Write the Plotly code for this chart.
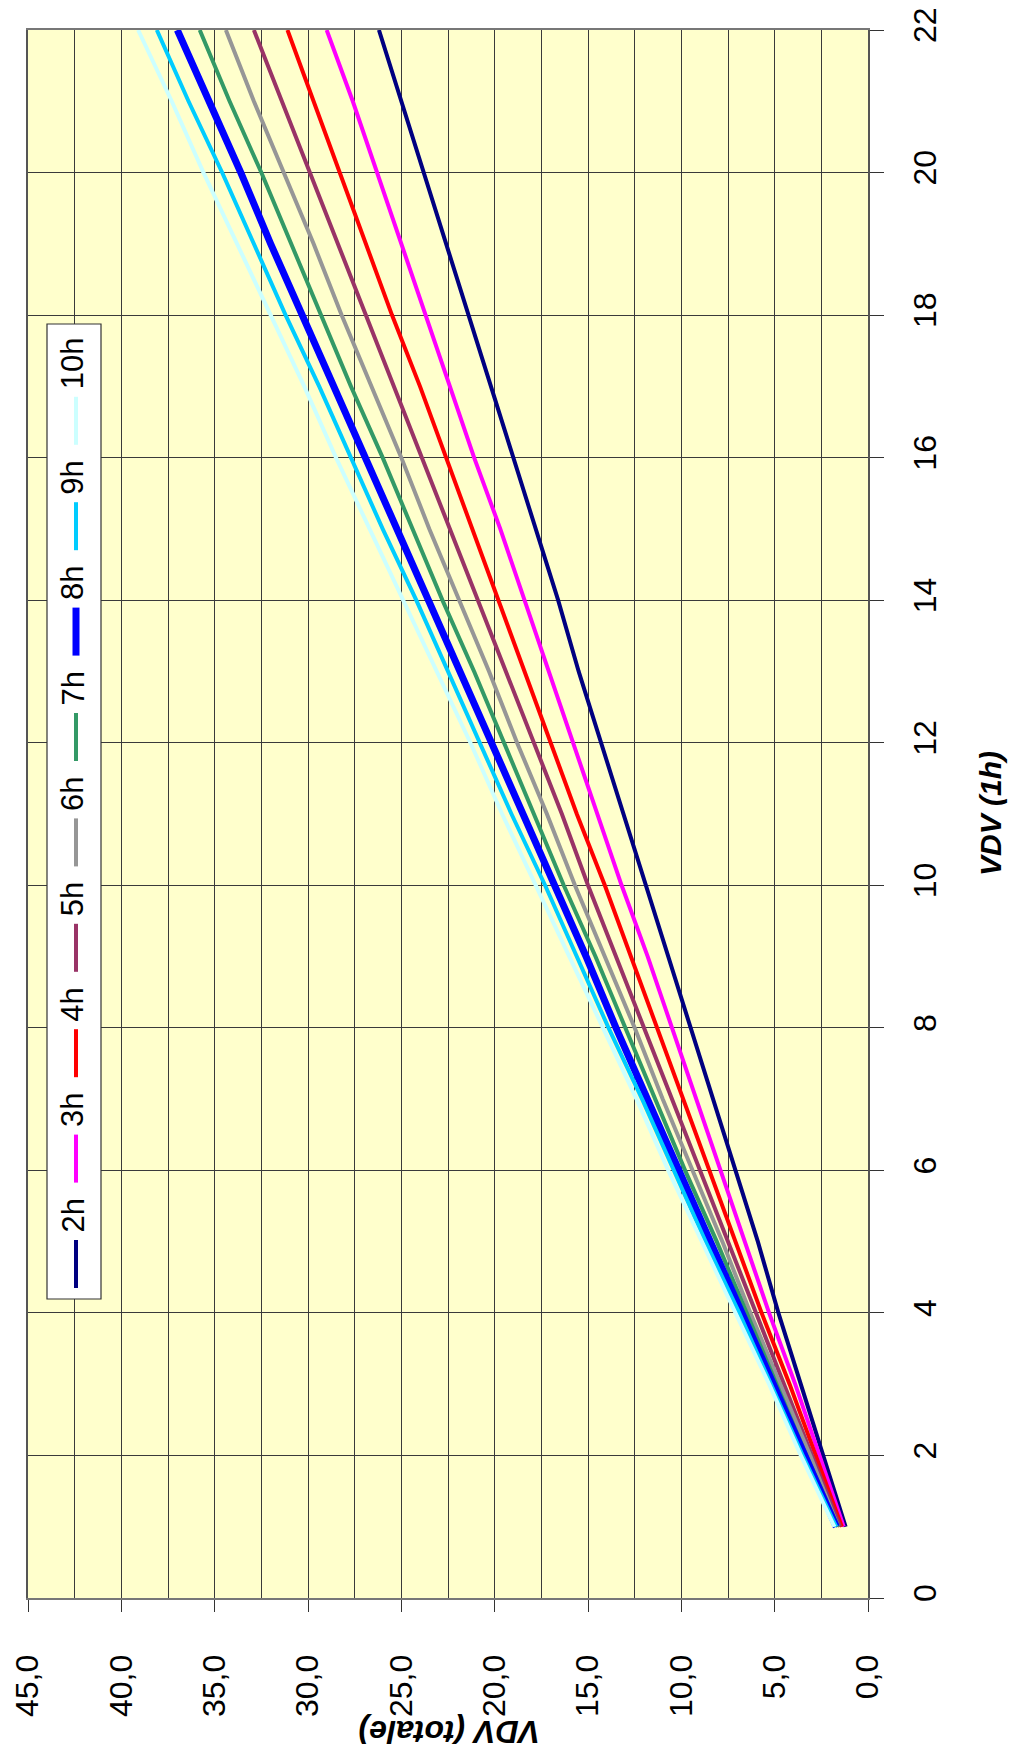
import plotly.graph_objects as go

# VDV (1h) values (vertical axis in the rotated chart)
vdv_1h = [1, 2, 3, 4, 5, 6, 7, 8, 9, 10, 11, 12, 13, 14, 15, 16, 17, 18, 19, 20, 21, 22]

# VDV (totale) per exposure duration
vdv_2h = [1.2, 2.4, 3.6, 4.8, 5.9, 7.1, 8.3, 9.5, 10.7, 11.9, 13.1, 14.3, 15.5, 16.6, 17.8, 19.0, 20.2, 21.4, 22.6, 23.8, 25.0, 26.2]
vdv_3h = [1.3, 2.6, 3.9, 5.3, 6.6, 7.9, 9.2, 10.5, 11.8, 13.2, 14.5, 15.8, 17.1, 18.4, 19.7, 21.1, 22.4, 23.7, 25.0, 26.3, 27.6, 29.0]
vdv_4h = [1.4, 2.8, 4.2, 5.7, 7.1, 8.5, 9.9, 11.3, 12.7, 14.1, 15.6, 17.0, 18.4, 19.8, 21.2, 22.6, 24.0, 25.5, 26.9, 28.3, 29.7, 31.1]
vdv_5h = [1.5, 3.0, 4.5, 6.0, 7.5, 9.0, 10.5, 12.0, 13.5, 15.0, 16.4, 17.9, 19.4, 20.9, 22.4, 23.9, 25.4, 26.9, 28.4, 29.9, 31.4, 32.9]
vdv_6h = [1.6, 3.1, 4.7, 6.3, 7.8, 9.4, 11.0, 12.5, 14.1, 15.7, 17.2, 18.8, 20.3, 21.9, 23.5, 25.0, 26.6, 28.2, 29.7, 31.3, 32.9, 34.4]
vdv_7h = [1.6, 3.3, 4.9, 6.5, 8.1, 9.8, 11.4, 13.0, 14.6, 16.3, 17.9, 19.5, 21.1, 22.8, 24.4, 26.0, 27.7, 29.3, 30.9, 32.5, 34.2, 35.8]
vdv_8h = [1.7, 3.4, 5.0, 6.7, 8.4, 10.1, 11.8, 13.5, 15.1, 16.8, 18.5, 20.2, 21.9, 23.5, 25.2, 26.9, 28.6, 30.3, 32.0, 33.6, 35.3, 37.0]
vdv_9h = [1.7, 3.5, 5.2, 6.9, 8.7, 10.4, 12.1, 13.9, 15.6, 17.3, 19.1, 20.8, 22.5, 24.2, 26.0, 27.7, 29.4, 31.2, 32.9, 34.6, 36.4, 38.1]
vdv_10h = [1.8, 3.6, 5.3, 7.1, 8.9, 10.7, 12.4, 14.2, 16.0, 17.8, 19.6, 21.3, 23.1, 24.9, 26.7, 28.5, 30.2, 32.0, 33.8, 35.6, 37.3, 39.1]

series_names = ["2h", "3h", "4h", "5h", "6h", "7h", "8h", "9h", "10h"]
series_values = [vdv_2h, vdv_3h, vdv_4h, vdv_5h, vdv_6h, vdv_7h, vdv_8h, vdv_9h, vdv_10h]
series_colors = ["#000080", "#FF00FF", "#FF0000", "#993366", "#969696",
                 "#339966", "#0000FF", "#00CCFF", "#CCFFFF"]
series_widths = [4, 4, 4, 4, 4, 4, 7, 4, 4]

x_title = "VDV (totale)"
y_title = "VDV (1h)"

W, H = 1017, 1757
L, R, T, B = 28, 868, 30, 1598  # plot area pixel bounds
PW, PH = R - L, B - T

def px(xp):
    return (xp - L) / PW

def py(yp):
    return (B - yp) / PH

FONT = "Liberation Sans, Arial, sans-serif"

fig = go.Figure()
for name, vals, col, w in zip(series_names, series_values, series_colors, series_widths):
    fig.add_trace(go.Scatter(x=vals, y=vdv_1h, mode="lines", name=name,
                             line=dict(color=col, width=w), showlegend=False))

grid_col = "#3a3a3a"
fig.update_layout(
    width=W, height=H,
    margin=dict(l=L, r=W - R, t=T, b=H - B, autoexpand=False),
    paper_bgcolor="white", plot_bgcolor="#FFFFCC",
    separators=", ",
    font=dict(family=FONT, color="black"),
    xaxis=dict(range=[45, 0], dtick=5, tick0=0, tickformat=".1f", tickangle=-90,
               showgrid=True, gridcolor=grid_col, gridwidth=1,
               minor=dict(dtick=2.5, showgrid=True, gridcolor=grid_col, gridwidth=1),
               ticks="outside", ticklen=12, tickcolor="#333", tickwidth=1,
               showline=True, linecolor="#777", linewidth=2, mirror=True,
               tickfont=dict(size=32, family=FONT), ticklabelstandoff=30,
               zeroline=False, automargin=False),
    yaxis=dict(range=[0, 22], dtick=2, tick0=0, side="right", tickangle=-90,
               showgrid=True, gridcolor=grid_col, gridwidth=1,
               ticks="outside", ticklen=14, tickcolor="#333", tickwidth=1,
               showline=True, linecolor="#555", linewidth=2, mirror=True,
               tickfont=dict(size=32, family=FONT), ticklabelstandoff=14,
               zeroline=False, automargin=False),
)

annotations = [
    dict(text="<b><i>" + y_title + "</i></b>", x=px(990), y=py(813), xref="paper", yref="paper",
         showarrow=False, textangle=-90, font=dict(size=30, family=FONT),
         xanchor="center", yanchor="middle"),
    dict(text="<b><i>" + x_title + "</i></b>", x=px(450), y=py(1732), xref="paper", yref="paper",
         showarrow=False, textangle=180, font=dict(size=32, family=FONT),
         xanchor="center", yanchor="middle"),
]

shapes = [dict(type="rect", xref="paper", yref="paper",
               x0=px(47), x1=px(101), y0=py(1299), y1=py(324),
               fillcolor="white", line=dict(color="#333", width=1.2), layer="above")]

for i, (name, col, w) in enumerate(zip(series_names, series_colors, series_widths)):
    cy = 1264 - i * 105.4
    y_top = cy - 24
    y_bot = cy + 24
    shapes.append(dict(type="line", xref="paper", yref="paper",
                       x0=px(76), x1=px(76), y0=py(y_bot), y1=py(y_top),
                       line=dict(color=col, width=w), layer="above"))
    annotations.append(dict(text=name, x=px(72.5), y=py(y_top - 5), xref="paper", yref="paper",
                            showarrow=False, textangle=-90, font=dict(size=31, family=FONT),
                            xanchor="center", yanchor="bottom"))

fig.update_layout(annotations=annotations, shapes=shapes)
fig.write_html("out.html", config={"displayModeBar": False},
               post_script="document.body.style.margin='0';document.body.style.overflow='hidden';")
